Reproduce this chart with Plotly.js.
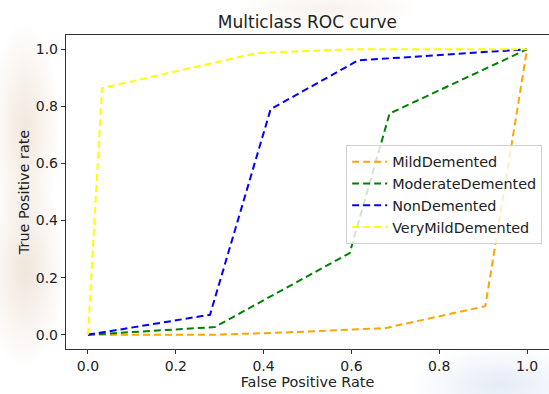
<!DOCTYPE html>
<html>
<head>
<meta charset="utf-8">
<script src="https://cdn.plot.ly/plotly-3.0.1.min.js"></script>
<style>
html,body{margin:0;padding:0;overflow:hidden;width:549px;height:394px;}
body{
  background:
    radial-gradient(ellipse 35px 110px at 25px 130px, rgba(210,175,140,0.30), rgba(255,255,255,0) 100%),
    radial-gradient(ellipse 40px 100px at 25px 270px, rgba(205,170,135,0.30), rgba(255,255,255,0) 100%),
    radial-gradient(ellipse 90px 22px at 330px 8px, rgba(220,195,160,0.22), rgba(255,255,255,0) 100%),
    radial-gradient(ellipse 90px 40px at 500px 385px, rgba(195,212,235,0.45), rgba(255,255,255,0) 100%),
    #ffffff;
}
#chart{width:549px;height:394px;}
</style>
</head>
<body>
<div id="chart"></div>
<script>
// Series data
const classNames = ["MildDemented", "ModerateDemented", "NonDemented", "VeryMildDemented"];

const mildFpr = [0, 0.29, 0.45, 0.60, 0.676, 0.905, 1.0];
const mildTpr = [0, 0.0, 0.008, 0.018, 0.023, 0.10, 1.0];

const moderateFpr = [0, 0.289, 0.596, 0.687, 1.0];
const moderateTpr = [0, 0.027, 0.286, 0.775, 1.0];

const nonFpr = [0, 0.278, 0.416, 0.615, 1.0];
const nonTpr = [0, 0.070, 0.79, 0.961, 1.0];

const veryMildFpr = [0, 0.032, 0.385, 0.60, 1.0];
const veryMildTpr = [0, 0.864, 0.987, 1.0, 1.0];

const tickVals = [0.0, 0.2, 0.4, 0.6, 0.8, 1.0];
const tickText = ["0.0", "0.2", "0.4", "0.6", "0.8", "1.0"];

const colors = ["orange", "green", "blue", "yellow"];
const xs = [mildFpr, moderateFpr, nonFpr, veryMildFpr];
const ys = [mildTpr, moderateTpr, nonTpr, veryMildTpr];

const traces = classNames.map((name, i) => ({
  x: xs[i], y: ys[i], name: name, type: "scatter", mode: "lines",
  line: {color: colors[i], width: 2, dash: "7px,4px"}
}));

const axisCommon = {
  range: [-0.05, 1.05], tickvals: tickVals, ticktext: tickText,
  showgrid: false, zeroline: false, showline: true, mirror: true,
  linecolor: "#333", linewidth: 1.2, ticks: "outside", ticklen: 4,
  tickcolor: "#333", tickwidth: 1,
  tickfont: {family: "DejaVu Sans", size: 14, color: "#222"}
};

const layout = {
  width: 549, height: 394,
  margin: {l: 66, r: 0, t: 34.5, b: 45},
  paper_bgcolor: "rgba(0,0,0,0)", plot_bgcolor: "#ffffff",
  title: {text: "Multiclass ROC curve", x: 0.56, xanchor: "center", y: 0.945, yanchor: "middle",
          font: {family: "DejaVu Sans", size: 17, color: "#222"}},
  xaxis: Object.assign({}, axisCommon, {
    title: {text: "False Positive Rate", standoff: 3, font: {family: "DejaVu Sans", size: 14.4, color: "#222"}}
  }),
  yaxis: Object.assign({}, axisCommon, {
    title: {text: "True Positive rate", standoff: 2, font: {family: "DejaVu Sans", size: 14.4, color: "#222"}}
  }),
  showlegend: true,
  legend: {x: 0.58, y: 0.65, xanchor: "left", yanchor: "top", itemwidth: 35,
           bgcolor: "rgba(255,255,255,0.8)", bordercolor: "#d0d0d0", borderwidth: 1,
           font: {family: "DejaVu Sans", size: 14.4, color: "#222"}}
};

Plotly.newPlot("chart", traces, layout, {displayModeBar: false, staticPlot: true});
</script>
</body>
</html>
